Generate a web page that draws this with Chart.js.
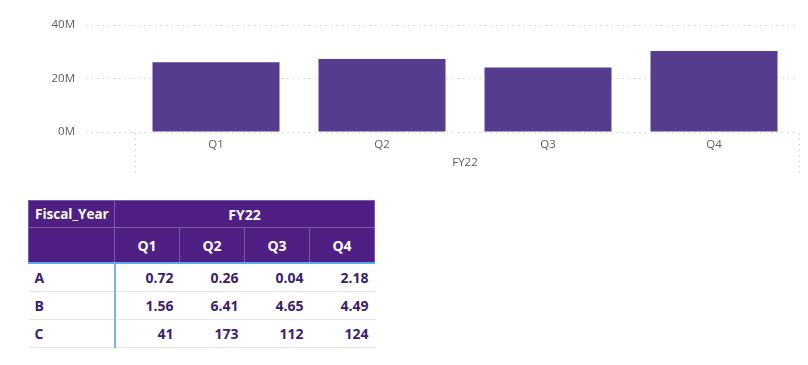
<!DOCTYPE html>
<html>
<head>
<meta charset="utf-8">
<script src="https://cdn.jsdelivr.net/npm/chart.js@4"></script>
<style>
  html, body { margin: 0; padding: 0; background: #fff; }
  body { width: 808px; height: 365px; position: relative; overflow: hidden; font-family: "Open Sans", sans-serif; }
  #chartBox { position: absolute; left: 0; top: 0; width: 808px; height: 186px; }
  #matrix { position: absolute; left: 28px; top: 200px; border-collapse: collapse; font-weight: bold; font-size: 14px; }
  #matrix th { background: #4f1f84; color: #fff; border: 1px solid #7a5aa6; padding: 0 6px; }
  #matrix tr.h1 th:first-child { font-size: 13.5px; }
  #matrix td { color: #3b1d6e; padding: 0 6px; text-align: right; border-bottom: 1px solid #e6e6e6; }
  #matrix td.rowhead { text-align: left; border-right: 2px solid #76b5f3; }
  #matrix tr.h1 th { height: 26px; }
  #matrix tr.h2 th { height: 34px; border-bottom: 2px solid #5ea7f2; }
  #matrix tr.d td { height: 27px; }
</style>
</head>
<body>
<div id="chartBox"><canvas id="barChart"></canvas></div>
<table id="matrix"></table>
<script>
const quarters = ['Q1', 'Q2', 'Q3', 'Q4'];
const fiscalYear = 'FY22';
const totals = [26.1e6, 27.3e6, 24.1e6, 30.3e6];
const yTicks = [0, 20e6, 40e6];

const rowLabels = ['A', 'B', 'C'];
const valuesA = [0.72, 0.26, 0.04, 2.18];
const valuesB = [1.56, 6.41, 4.65, 4.49];
const valuesC = [41, 173, 112, 124];
const rowDecimals = [2, 2, 0];

const gridColor = '#d2d0ce';
const textColor = '#605e5c';

// dotted group separators under the x axis (Power BI style hierarchy)
const groupLines = {
    id: 'groupLines',
    afterDraw(chart) {
        const { ctx, chartArea } = chart;
        ctx.save();
        ctx.strokeStyle = gridColor;
        ctx.lineWidth = 1;
        ctx.setLineDash([1.5, 4]);
        [chartArea.left + 2, chartArea.right + 2].forEach(x => {
            ctx.beginPath();
            ctx.moveTo(Math.round(x) + 0.5, chartArea.bottom + 1);
            ctx.lineTo(Math.round(x) + 0.5, chartArea.bottom + 42);
            ctx.stroke();
        });
        ctx.restore();
    }
};

const ctx = document.getElementById('barChart').getContext('2d');
new Chart(ctx, {
    type: 'bar',
    data: {
        labels: quarters,
        datasets: [{
            data: totals,
            backgroundColor: '#563c8f',
            borderWidth: 0,
            barPercentage: 0.765,
            categoryPercentage: 1
        }]
    },
    options: {
        responsive: true,
        maintainAspectRatio: false,
        animation: false,
        layout: { padding: { top: 25, right: 11, bottom: 11, left: 0 } },
        plugins: { legend: { display: false }, tooltip: { enabled: false } },
        scales: {
            y: {
                min: 0,
                max: 40e6,
                afterBuildTicks: scale => { scale.ticks = yTicks.map(v => ({ value: v })); },
                afterFit: scale => { scale.width = 133; },
                border: { display: false, dash: [1.5, 4] },
                grid: {
                    color: gridColor,
                    tickColor: gridColor,
                    tickBorderDash: [1.5, 4],
                    tickLength: 47
                },
                ticks: {
                    color: textColor,
                    padding: 11,
                    font: { family: 'Open Sans', size: 11.5 },
                    callback: v => (v / 1e6) + 'M'
                }
            },
            x: {
                afterFit: scale => { scale.height = 21; },
                border: { display: false },
                grid: { display: false },
                ticks: {
                    color: textColor,
                    padding: -2,
                    font: { family: 'Open Sans', size: 11.5 }
                }
            },
            x2: {
                type: 'category',
                labels: [fiscalYear],
                position: 'bottom',
                afterFit: scale => { scale.height = 22; },
                border: { display: false },
                grid: { display: false },
                ticks: {
                    color: textColor,
                    padding: -5,
                    font: { family: 'Open Sans', size: 11.5 }
                }
            }
        }
    },
    plugins: [groupLines]
});

// matrix table
const table = document.getElementById('matrix');
const colWidths = [86, 65, 65, 65, 65];
let html = '<colgroup>' + colWidths.map(w => '<col style="width:' + w + 'px">').join('') + '</colgroup>';
html += '<tr class="h1"><th style="text-align:left">Fiscal_Year</th><th colspan="' + quarters.length + '">' + fiscalYear + '</th></tr>';
html += '<tr class="h2"><th></th>' + quarters.map(q => '<th>' + q + '</th>').join('') + '</tr>';
[valuesA, valuesB, valuesC].forEach((vals, i) => {
    html += '<tr class="d"><td class="rowhead">' + rowLabels[i] + '</td>' +
        vals.map(v => '<td>' + v.toFixed(rowDecimals[i]) + '</td>').join('') + '</tr>';
});
table.innerHTML = html;
table.style.width = colWidths.reduce((a, b) => a + b, 0) + 'px';
table.style.tableLayout = 'fixed';
</script>
</body>
</html>
